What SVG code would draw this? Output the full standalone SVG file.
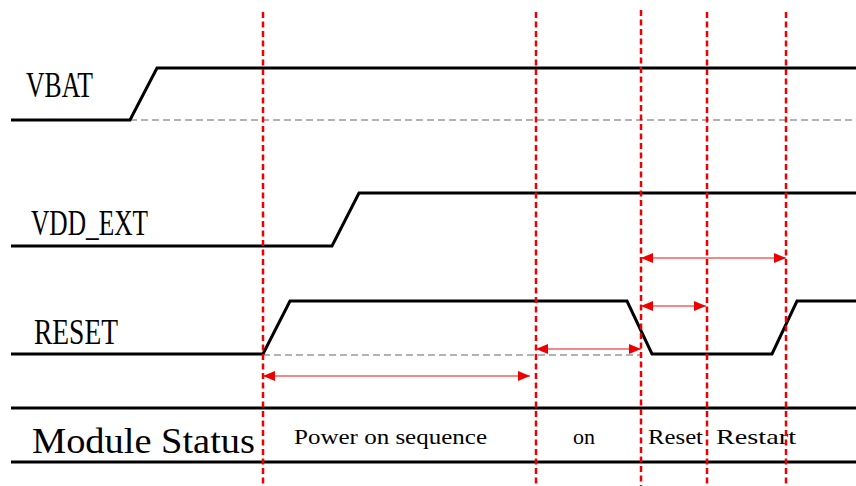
<svg xmlns="http://www.w3.org/2000/svg" width="856" height="486" viewBox="0 0 856 486">
<style>
.sig{fill:none;stroke:#000;stroke-width:3;stroke-linejoin:miter}
.ref{fill:none;stroke:#999;stroke-width:1.3;stroke-dasharray:7,4}
.vline{stroke:#ee0000;stroke-width:2.5;stroke-dasharray:6,3.5}
.arr{stroke:#ee1111;stroke-width:1.2;marker-start:url(#ah);marker-end:url(#ah)}
.lbl{font-family:"Liberation Serif","DejaVu Serif",serif;font-size:36px;fill:#000}
.st{font-family:"Liberation Serif","DejaVu Serif",serif;font-size:21px;fill:#000}
</style>
<defs>
<marker id="ah" viewBox="0 0 12 10" refX="12" refY="5" markerWidth="12" markerHeight="10" markerUnits="userSpaceOnUse" orient="auto-start-reverse">
<path d="M0,0 L12,5 L0,10 Z" fill="#ee0000"/>
</marker>
</defs>
<rect width="856" height="486" fill="#fff"/>
<g id="VBAT">
<path class="ref" d="M130,120 H856"/>
<path class="sig" d="M11,120 H130 L157,68 H856"/>
<text class="lbl" x="26" y="97" textLength="67" lengthAdjust="spacingAndGlyphs">VBAT</text>
</g>
<g id="VDD_EXT">
<path class="sig" d="M11,246 H332 L359,193 H856"/>
<text class="lbl" x="31" y="235" textLength="117" lengthAdjust="spacingAndGlyphs">VDD_EXT</text>
</g>
<g id="RESET">
<path class="ref" d="M263,355 H640"/>
<path class="sig" d="M11,354 H263 L290,301 H627 L652,354 H772 L797,301 H856"/>
<text class="lbl" x="34" y="344" textLength="84" lengthAdjust="spacingAndGlyphs">RESET</text>
</g>
<g id="ModuleStatus">
<path class="sig" d="M11,408 H856 M11,462 H856"/>
<text class="lbl" x="32" y="453" textLength="223" lengthAdjust="spacingAndGlyphs">Module Status</text>
<text class="st" x="294" y="444" textLength="193" lengthAdjust="spacingAndGlyphs">Power on sequence</text>
<text class="st" x="573" y="444" textLength="22" lengthAdjust="spacingAndGlyphs">on</text>
<text class="st" x="648" y="444" textLength="55" lengthAdjust="spacingAndGlyphs">Reset</text>
<text class="st" x="716" y="444" textLength="80" lengthAdjust="spacingAndGlyphs">Restart</text>
</g>
<g id="connectors">
<line class="vline" x1="263" y1="12" x2="263" y2="486"/>
<line class="vline" x1="536" y1="12" x2="536" y2="486"/>
<line class="vline" x1="641" y1="10" x2="641" y2="486"/>
<line class="vline" x1="707" y1="12" x2="707" y2="486"/>
<line class="vline" x1="786" y1="12" x2="786" y2="486"/>
<line class="arr" x1="263" y1="376" x2="530" y2="376"/>
<line class="arr" x1="536" y1="349" x2="641" y2="349"/>
<line class="arr" x1="641" y1="258" x2="786" y2="258"/>
<line class="arr" x1="641" y1="306" x2="706" y2="306"/>
</g>
</svg>
